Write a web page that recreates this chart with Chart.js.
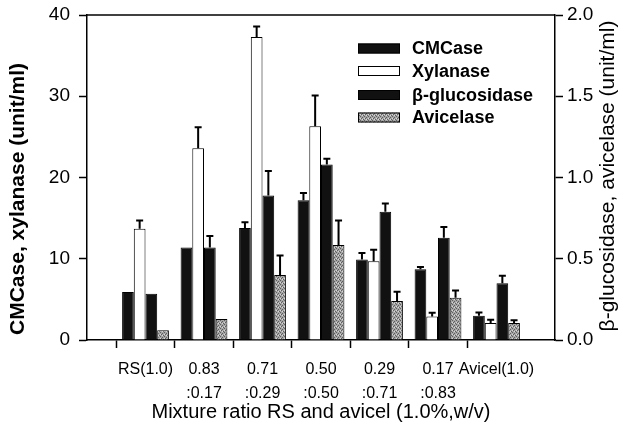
<!DOCTYPE html>
<html>
<head>
<meta charset="utf-8">
<script src="https://cdn.jsdelivr.net/npm/chart.js@4.4.0/dist/chart.umd.min.js"></script>
<style>
  html, body { margin: 0; padding: 0; background: #fff; }
  #wrap { width: 631px; height: 426px; }
</style>
</head>
<body>
<div id="wrap"><canvas id="chart" width="631" height="426"></canvas></div>
<script>
// categories (mixture ratio RS : avicel)
const categories = ['RS(1.0)', ['0.83', ':0.17'], ['0.71', ':0.29'], ['0.50', ':0.50'], ['0.29', ':0.71'], ['0.17', ':0.83'], 'Avicel(1.0)'];

// left axis (unit/ml)
const cmcase = [5.9, 11.4, 13.8, 17.2, 9.9, 8.7, 3.0];
const cmcaseErr = [0, 0, 0.7, 0.9, 0.8, 0.3, 0.4];
const xylanase = [13.7, 23.6, 37.3, 26.3, 9.7, 2.9, 2.1];
const xylanaseErr = [1.0, 2.6, 1.3, 3.8, 1.4, 0.45, 0.4];

// right axis (unit/ml)
const bgluc = [0.285, 0.57, 0.89, 1.08, 0.79, 0.63, 0.35];
const bglucErr = [0, 0.07, 0.15, 0.035, 0.05, 0.065, 0.045];
const avicelase = [0.06, 0.13, 0.40, 0.585, 0.24, 0.26, 0.105];
const avicelaseErr = [0, 0, 0.12, 0.15, 0.057, 0.044, 0.016];

const leftTicks = [0, 10, 20, 30, 40];
const rightTicks = [0, 0.5, 1.0, 1.5, 2.0];

// empty slot at each end, like the original axis
const pad = a => [null, ...a, null];
const labels = ['', ...categories, ''];

const FONT = '"Liberation Sans", Arial, Helvetica, sans-serif';

// grey stipple for avicelase
const pc = document.createElement('canvas');
pc.width = 4; pc.height = 4;
const p = pc.getContext('2d');
p.fillStyle = '#a6a6a6'; p.fillRect(0, 0, 4, 4);
p.fillStyle = '#5e5e5e';
p.fillRect(0, 0, 1, 1); p.fillRect(2, 1, 1, 1); p.fillRect(1, 2, 1, 1); p.fillRect(3, 3, 1, 1);
p.fillStyle = '#d8d8d8';
p.fillRect(2, 3, 1, 1); p.fillRect(0, 2, 1, 1);
const stipple = document.getElementById('chart').getContext('2d').createPattern(pc, 'repeat');

const errorBars = {
  id: 'errorBars',
  afterDatasetsDraw(chart) {
    const ctx = chart.ctx;
    ctx.save();
    ctx.strokeStyle = '#000';
    ctx.lineWidth = 2;
    chart.data.datasets.forEach((ds, di) => {
      const meta = chart.getDatasetMeta(di);
      const scale = chart.scales[meta.yAxisID];
      meta.data.forEach((bar, i) => {
        const v = ds.data[i], e = ds.err[i];
        if (v == null || !e) return;
        const y = scale.getPixelForValue(v + e);
        ctx.beginPath();
        ctx.moveTo(bar.x, bar.y);
        ctx.lineTo(bar.x, y);
        ctx.moveTo(bar.x - 3.5, y);
        ctx.lineTo(bar.x + 3.5, y);
        ctx.stroke();
      });
    });
    ctx.restore();
  }
};

const extras = {
  id: 'extras',
  afterDraw(chart) {
    const ctx = chart.ctx;
    const a = chart.chartArea;
    ctx.save();
    // top frame
    ctx.strokeStyle = '#000';
    ctx.lineWidth = 1.5;
    ctx.beginPath();
    ctx.moveTo(a.left, a.top);
    ctx.lineTo(a.right, a.top);
    ctx.stroke();

    // legend
    const rows = [48.5, 71, 95, 117.5];
    ctx.font = 'bold 18px ' + FONT;
    ctx.textBaseline = 'middle';
    ctx.textAlign = 'left';
    chart.data.datasets.forEach((ds, i) => {
      const y = rows[i];
      ctx.fillStyle = ds.backgroundColor;
      ctx.fillRect(358, y - 5, 42, 10);
      ctx.lineWidth = 1;
      ctx.strokeStyle = '#000';
      ctx.strokeRect(358.5, y - 4.5, 41, 9);
      ctx.fillStyle = '#000';
      ctx.fillText(ds.label, 412, y + 1);
    });

    ctx.fillStyle = '#000';
    ctx.textAlign = 'center';
    // left axis title
    ctx.save();
    ctx.translate(18, 199);
    ctx.rotate(-Math.PI / 2);
    ctx.font = 'bold 21px ' + FONT;
    ctx.fillText('CMCase, xylanase (unit/ml)', 0, 0);
    ctx.restore();

    // right axis title, reading upward
    ctx.translate(608, 176);
    ctx.rotate(-Math.PI / 2);
    ctx.font = '21px ' + FONT;
    ctx.fillText('\u03b2-glucosidase, avicelase (unit/ml)', 0, 0);
    ctx.restore();
  }
};

const axisGrid = {
  drawOnChartArea: false,
  drawTicks: true,
  tickLength: 8,
  tickWidth: 1.5,
  tickColor: '#000'
};

// fixed axis box, no extra label padding
const fixY = w => s => { s.width = w; s.paddingTop = 0; s.paddingBottom = 0; };

new Chart(document.getElementById('chart'), {
  type: 'bar',
  data: {
    labels: labels,
    datasets: [
      { label: 'CMCase', data: pad(cmcase), err: pad(cmcaseErr), yAxisID: 'y',
        backgroundColor: '#111', borderColor: '#000', borderWidth: 1 },
      { label: 'Xylanase', data: pad(xylanase), err: pad(xylanaseErr), yAxisID: 'y',
        backgroundColor: '#fff', borderColor: '#000', borderWidth: 1 },
      { label: '\u03b2-glucosidase', data: pad(bgluc), err: pad(bglucErr), yAxisID: 'y2',
        backgroundColor: '#111', borderColor: '#000', borderWidth: 1 },
      { label: 'Avicelase', data: pad(avicelase), err: pad(avicelaseErr), yAxisID: 'y2',
        backgroundColor: stipple, borderColor: '#000', borderWidth: 1 }
    ]
  },
  options: {
    responsive: false,
    animation: false,
    layout: { padding: { top: 15, left: 0, right: 0, bottom: 0 } },
    categoryPercentage: 0.8,
    barPercentage: 1.0,
    plugins: {
      legend: { display: false },
      tooltip: { enabled: false }
    },
    scales: {
      x: {
        offset: false,
        grid: {
          drawOnChartArea: false,
          tickLength: 8,
          tickWidth: 1.5,
          color: ctx => (ctx.index === 0 || ctx.index === labels.length - 1) ? 'rgba(0,0,0,0)' : '#000'
        },
        border: { display: true, color: '#000', width: 1.5 },
        ticks: {
          autoSkip: false, maxRotation: 0, padding: 10, color: '#000',
          font: { family: FONT, size: 16, lineHeight: 1.5 }
        },
        title: {
          display: true, text: 'Mixture ratio RS and avicel (1.0%,w/v)', color: '#000',
          font: { family: FONT, size: 20 }, padding: { top: 0, bottom: 2 }
        },
        afterFit: s => { s.height = 86; }
      },
      y: {
        position: 'left',
        min: 0, max: 40,
        afterBuildTicks: s => { s.ticks = leftTicks.map(v => ({ value: v })); },
        grid: axisGrid,
        border: { display: true, color: '#000', width: 1.5 },
        ticks: { padding: 9, color: '#000', font: { family: FONT, size: 19 } },
        afterFit: fixY(87)
      },
      y2: {
        position: 'right',
        min: 0, max: 2.0,
        afterBuildTicks: s => { s.ticks = rightTicks.map(v => ({ value: v })); },
        grid: axisGrid,
        border: { display: true, color: '#000', width: 1.5 },
        ticks: { padding: 4, color: '#000', font: { family: FONT, size: 19 },
          callback: v => Number(v).toFixed(1) },
        afterFit: fixY(76)
      }
    }
  },
  plugins: [errorBars, extras]
});
</script>
</body>
</html>
